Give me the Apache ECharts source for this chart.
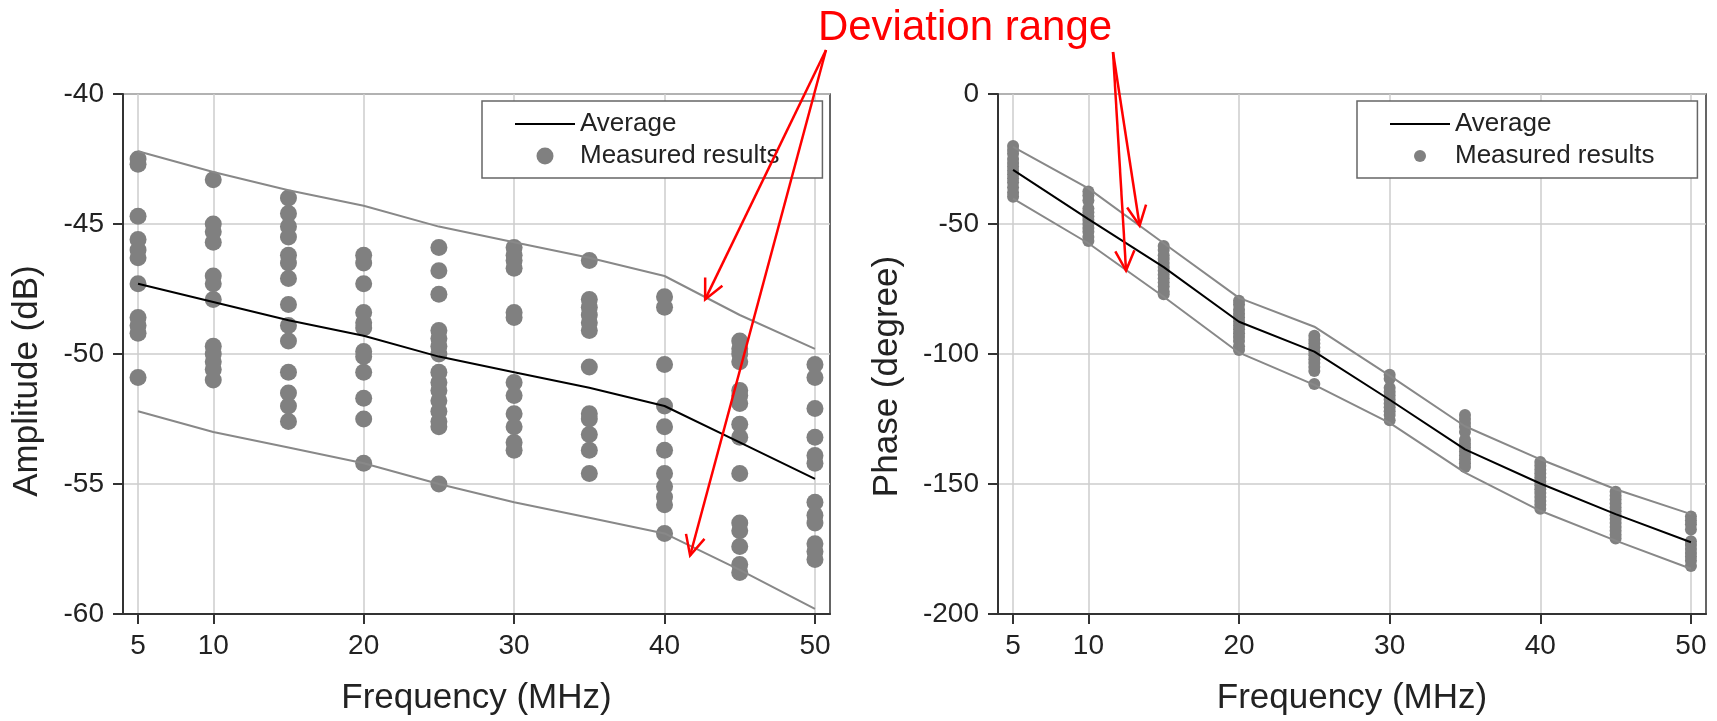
<!DOCTYPE html>
<html>
<head>
<meta charset="utf-8">
<script src="https://cdn.jsdelivr.net/npm/echarts@6/dist/echarts.min.js"></script>
<style>
  html, body { margin: 0; padding: 0; background: #fff; }
  #chart { width: 1717px; height: 721px; }
</style>
</head>
<body>
<div id="chart"></div>
<script>
// frequencies (MHz) where the measurements were taken
const freqs = [5, 10, 15, 20, 25, 30, 35, 40, 45, 50]
const freqTicks = [5, 10, 20, 30, 40, 50]

// amplitude (dB)
const ampAverage = [-47.3, -48.0, -48.7, -49.3, -50.1, -50.7, -51.3, -52.0, -53.4, -54.8]
const ampUpper = [-42.2, -43.0, -43.7, -44.3, -45.1, -45.7, -46.3, -47.0, -48.5, -49.8]
const ampLower = [-52.2, -53.0, -53.6, -54.2, -55.0, -55.7, -56.3, -56.9, -58.3, -59.8]
const ampMeasured = [
  [-42.5, -42.7, -44.7, -45.6, -46.0, -46.3, -47.3, -48.6, -48.9, -49.2, -50.9],
  [-43.3, -45.0, -45.3, -45.7, -47.0, -47.3, -47.9, -49.7, -50.0, -50.3, -50.6, -51.0],
  [-44.0, -44.6, -45.1, -45.5, -46.2, -46.5, -47.1, -48.1, -48.9, -49.5, -50.7, -51.5, -52.0, -52.6],
  [-46.2, -46.5, -47.3, -48.4, -48.8, -49.0, -49.9, -50.1, -50.7, -51.7, -52.5, -54.2],
  [-45.9, -46.8, -47.7, -49.1, -49.4, -49.7, -50.0, -50.7, -51.1, -51.4, -51.8, -52.2, -52.6, -52.8, -55.0],
  [-45.9, -46.2, -46.4, -46.7, -48.4, -48.6, -51.1, -51.6, -52.3, -52.8, -53.4, -53.7],
  [-46.4, -47.9, -48.2, -48.5, -48.8, -49.1, -50.5, -52.3, -52.5, -53.1, -53.7, -54.6],
  [-47.8, -48.2, -50.4, -52.0, -52.8, -53.7, -54.6, -55.1, -55.5, -55.8, -56.9],
  [-49.5, -49.8, -50.0, -50.3, -51.4, -51.6, -51.9, -52.7, -53.2, -54.6, -56.5, -56.8, -57.4, -58.1, -58.4],
  [-50.4, -50.9, -52.1, -53.2, -53.9, -54.2, -55.7, -56.2, -56.5, -57.3, -57.6, -57.9]
]

// phase (degree)
const phaseAverage = [-29.2, -48.1, -66.6, -87.6, -99.1, -117.6, -136.7, -149.8, -161.6, -172.4]
const phaseUpper = [-20.3, -36.3, -57.4, -78.4, -89.5, -108.3, -127.8, -140.5, -152.0, -161.6]
const phaseLower = [-40.2, -57.4, -78.0, -99.5, -111.9, -126.5, -145.6, -160.3, -171.8, -182.6]
const phaseMeasured = [
  [-20, -21.5, -23, -25, -26.5, -28, -29.5, -31, -32.5, -34, -36, -38, -39.5],
  [-37.5, -39, -41, -44, -45.5, -47, -48.5, -50, -51.5, -53, -55, -56.5],
  [-58.5, -60, -62, -63.5, -65, -66.5, -68, -69.5, -71, -72.5, -74, -76, -77],
  [-79.5, -81, -83, -84.5, -86, -87.5, -89, -90.5, -92, -93.5, -95, -97, -98.5],
  [-93, -94.5, -96, -97.5, -99, -100.5, -102, -103.5, -105, -106.5, -111.5],
  [-108, -109.5, -113, -114.5, -116, -117.5, -119, -120.5, -122, -123.5, -125.5],
  [-123.5, -125, -126.5, -128, -130, -133, -134.5, -136, -137.5, -139, -140.5, -142, -143.5],
  [-141.5, -143, -144.5, -146, -147.5, -149, -150.5, -152, -153.5, -155, -156.5, -158, -159.5],
  [-153, -154.5, -156, -157.5, -159, -160.5, -162, -163.5, -165, -166.5, -168, -169.5, -171],
  [-162.5, -164, -165.5, -167.5, -172, -173.5, -175, -176.5, -178, -179.5, -181.5]
]

// where the red "Deviation range" arrows point, [freq, value]
const ampArrowTargets = [[42.7, -47.9], [41.7, -57.75]]
const phaseArrowTargets = [[13.4, -50.6], [12.5, -67.9]]

const font = '"Liberation Sans", Arial, sans-serif'
const dotColor = '#808080'
const boundColor = '#888888'

function pairs(vals) {
  return vals.map((v, i) => [freqs[i], v])
}
function dots(cols) {
  const pts = []
  cols.forEach((vals, i) => {
    vals.forEach(v => pts.push([freqs[i], v]))
  })
  return pts
}

function xAxisFor(gridIndex) {
  return {
    type: 'value',
    gridIndex: gridIndex,
    min: 4,
    max: 51,
    name: 'Frequency (MHz)',
    nameLocation: 'middle',
    nameGap: 67,
    nameTextStyle: { fontSize: 35, color: '#222', fontFamily: font },
    axisLine: { onZero: false, lineStyle: { color: '#333', width: 2 } },
    axisTick: { show: true, length: 10, customValues: freqTicks, lineStyle: { color: '#333', width: 2 } },
    axisLabel: { customValues: freqTicks, margin: 18, fontSize: 28, color: '#222', fontFamily: font },
    splitLine: { show: true, customValues: freqTicks, lineStyle: { color: '#cccccc', width: 1.5 } }
  }
}

function yAxisFor(gridIndex, name, min, max, interval, gap, shift) {
  return {
    type: 'value',
    gridIndex: gridIndex,
    min: min,
    max: max,
    interval: interval,
    name: name,
    nameLocation: 'middle',
    nameGap: gap,
    nameTextStyle: { fontSize: 35, color: '#222', fontFamily: font, padding: [0, shift, 0, 0] },
    axisLine: { onZero: false, lineStyle: { color: '#333', width: 2 } },
    axisTick: { show: true, length: 10, lineStyle: { color: '#333', width: 2 } },
    axisLabel: { margin: 19, fontSize: 28, color: '#222', fontFamily: font },
    splitLine: { show: true, lineStyle: { color: '#cccccc', width: 1.5 } }
  }
}

function legendFor(left, dotSize) {
  return {
    left: left,
    top: 101,
    orient: 'vertical',
    // plain line icon for the average, no marker on it
    data: [{ name: 'Average', icon: 'path://M0,0H60V2H0Z' }, 'Measured results'],
    itemWidth: 60,
    itemHeight: dotSize,
    itemGap: 6,
    padding: [10, 43, 9, 33],
    borderColor: '#666',
    borderWidth: 1.5,
    backgroundColor: '#fff',
    selectedMode: false,
    textStyle: { fontSize: 26, color: '#222', fontFamily: font }
  }
}

function seriesFor(idx, measured, avg, upper, lower, dotSize) {
  return [{
    name: 'Measured results',
    type: 'scatter',
    xAxisIndex: idx,
    yAxisIndex: idx,
    symbol: 'circle',
    symbolSize: dotSize,
    itemStyle: { color: dotColor, opacity: 1 },
    data: dots(measured)
  }, {
    name: 'Upper bound',
    type: 'line',
    xAxisIndex: idx,
    yAxisIndex: idx,
    symbol: 'none',
    lineStyle: { color: boundColor, width: 2 },
    data: pairs(upper)
  }, {
    name: 'Lower bound',
    type: 'line',
    xAxisIndex: idx,
    yAxisIndex: idx,
    symbol: 'none',
    lineStyle: { color: boundColor, width: 2 },
    data: pairs(lower)
  }, {
    name: 'Average',
    type: 'line',
    xAxisIndex: idx,
    yAxisIndex: idx,
    symbol: 'none',
    itemStyle: { color: '#000' },
    lineStyle: { color: '#000', width: 2 },
    data: pairs(avg)
  }]
}

const chart = echarts.init(document.getElementById('chart'), null, { renderer: 'canvas' })

chart.setOption({
  backgroundColor: '#fff',
  animation: false,
  grid: [
    { left: 123, right: 887, top: 94, bottom: 104, show: true, borderColor: '#333', borderWidth: 1.5, containLabel: false },
    { left: 998, right: 11, top: 94, bottom: 104, show: true, borderColor: '#333', borderWidth: 1.5, containLabel: false }
  ],
  legend: [legendFor(482, 17), legendFor(1357, 12)],
  xAxis: [xAxisFor(0), xAxisFor(1)],
  yAxis: [
    yAxisFor(0, 'Amplitude (dB)', -60, -40, 5, 78, 54),
    yAxisFor(1, 'Phase (degree)', -200, 0, 50, 93, 45)
  ],
  series: seriesFor(0, ampMeasured, ampAverage, ampUpper, ampLower, 17)
    .concat(seriesFor(1, phaseMeasured, phaseAverage, phaseUpper, phaseLower, 12))
})

// red annotation: text plus arrows pointing at the deviation lines
function arrow(from, to) {
  const ang = Math.atan2(to[1] - from[1], to[0] - from[0])
  const len = 22
  const spread = 0.45
  const p1 = [to[0] - len * Math.cos(ang - spread), to[1] - len * Math.sin(ang - spread)]
  const p2 = [to[0] - len * Math.cos(ang + spread), to[1] - len * Math.sin(ang + spread)]
  return [{
    type: 'line',
    shape: { x1: from[0], y1: from[1], x2: to[0], y2: to[1] },
    style: { stroke: '#ff0000', lineWidth: 2.5 },
    z: 100
  }, {
    type: 'polyline',
    shape: { points: [p1, to, p2] },
    style: { stroke: '#ff0000', lineWidth: 2.5, fill: 'none' },
    z: 100
  }]
}

let graphics = [{
  type: 'text',
  x: 965,
  y: 28,
  z: 100,
  style: {
    text: 'Deviation range',
    fill: '#ff0000',
    font: '42px ' + font,
    align: 'center',
    verticalAlign: 'middle'
  }
}]
ampArrowTargets.forEach(t => {
  graphics = graphics.concat(arrow([826, 50], chart.convertToPixel({ gridIndex: 0 }, t)))
})
phaseArrowTargets.forEach(t => {
  graphics = graphics.concat(arrow([1113, 52], chart.convertToPixel({ gridIndex: 1 }, t)))
})
chart.setOption({ graphic: graphics })
</script>
</body>
</html>
